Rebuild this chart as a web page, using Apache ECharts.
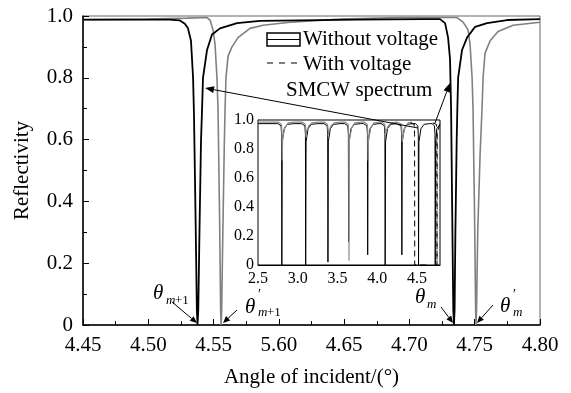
<!DOCTYPE html>
<html>
<head>
<meta charset="utf-8">
<title>Reflectivity</title>
<script src="https://cdn.jsdelivr.net/npm/echarts@6/dist/echarts.min.js"></script>
<style>
  html, body { margin: 0; padding: 0; background: #fff; }
  #chart { width: 571px; height: 393px; }
</style>
</head>
<body>
<div id="chart"></div>
<script>
// tick labels as printed in the figure (the "5.60" is in the original)
var xTickLabels = ['4.45', '4.50', '4.55', '5.60', '4.65', '4.70', '4.75', '4.80'];

// main plot, reflectivity vs angle
var withoutVoltage = [
  [4.45, 0.988], [4.50, 0.988], [4.516, 0.988], [4.524, 0.986], [4.528, 0.975], [4.5304, 0.96],
  [4.5327, 0.92], [4.5343, 0.80], [4.535, 0.68], [4.5362, 0.35], [4.5372, 0.05], [4.5377, 0.0],
  [4.5383, 0.05], [4.5392, 0.3], [4.5404, 0.6], [4.5412, 0.7], [4.5419, 0.8], [4.545, 0.89],
  [4.5488, 0.94], [4.5549, 0.96], [4.568, 0.977], [4.5856, 0.984], [4.616, 0.986], [4.66, 0.988],
  [4.71, 0.99], [4.7234, 0.99], [4.7273, 0.977], [4.7296, 0.93], [4.7311, 0.86], [4.7319, 0.70],
  [4.7328, 0.35], [4.7336, 0.05], [4.7341, 0.0], [4.7346, 0.05], [4.7352, 0.3], [4.7362, 0.6],
  [4.7367, 0.7], [4.7373, 0.8], [4.7403, 0.89], [4.7441, 0.93], [4.7503, 0.965], [4.7595, 0.977],
  [4.7748, 0.987], [4.80, 0.99]
];
var withVoltage = [
  [4.45, 0.988], [4.50, 0.99], [4.53, 0.993], [4.545, 0.995], [4.5473, 0.987], [4.5496, 0.955],
  [4.5511, 0.91], [4.5526, 0.80], [4.5534, 0.70], [4.5546, 0.35], [4.5554, 0.05], [4.5558, 0.0],
  [4.5562, 0.05], [4.5571, 0.3], [4.5582, 0.58], [4.5588, 0.70], [4.5595, 0.80], [4.5611, 0.87],
  [4.5641, 0.90], [4.5687, 0.93], [4.5779, 0.96], [4.5879, 0.97], [4.6086, 0.98], [4.6469, 0.99],
  [4.6928, 0.995], [4.7365, 0.995], [4.7411, 0.98], [4.7449, 0.955], [4.7464, 0.91], [4.748, 0.80],
  [4.7487, 0.70], [4.7499, 0.35], [4.7507, 0.05], [4.751, 0.0], [4.7514, 0.05], [4.7523, 0.3],
  [4.7541, 0.55], [4.7556, 0.70], [4.7564, 0.80], [4.7579, 0.88], [4.7618, 0.92], [4.7679, 0.95],
  [4.7794, 0.97], [4.80, 0.98]
];

// inset: SMCW spectrum
var insetWithout = [
  [2.5, 0.975], [2.75, 0.975], [2.79, 0.96], [2.797, 0.9], [2.80, 0], [2.805, 0.85], [2.83, 0.94], [2.87, 0.97], [2.95, 0.975],
  [3.05, 0.975], [3.09, 0.96], [3.097, 0.9], [3.10, 0], [3.105, 0.85], [3.13, 0.94], [3.17, 0.97], [3.25, 0.975],
  [3.33, 0.975], [3.37, 0.96], [3.377, 0.9], [3.38, 0.02], [3.385, 0.85], [3.41, 0.94], [3.45, 0.97], [3.53, 0.975],
  [3.59, 0.975], [3.63, 0.96], [3.637, 0.9], [3.64, 0.16], [3.645, 0.85], [3.67, 0.94], [3.71, 0.97], [3.79, 0.975],
  [3.83, 0.975], [3.87, 0.96], [3.877, 0.9], [3.88, 0.07], [3.885, 0.85], [3.91, 0.94], [3.95, 0.97], [4.02, 0.975],
  [4.05, 0.975], [4.09, 0.96], [4.097, 0.9], [4.10, 0], [4.105, 0.85], [4.13, 0.94], [4.17, 0.97], [4.24, 0.975],
  [4.26, 0.975], [4.30, 0.96], [4.307, 0.9], [4.31, 0.07], [4.315, 0.85], [4.34, 0.94], [4.38, 0.97], [4.44, 0.975],
  [4.48, 0.975], [4.51, 0.96], [4.517, 0.9], [4.52, 0], [4.525, 0.85], [4.55, 0.94], [4.59, 0.97], [4.66, 0.975],
  [4.69, 0.975], [4.72, 0.96], [4.727, 0.9], [4.73, 0], [4.735, 0.85], [4.75, 0.94], [4.79, 0.97]
];
var insetWith = [
  [2.5, 0.985], [2.76, 0.985], [2.795, 0.97], [2.802, 0.9], [2.805, 0.72], [2.81, 0.88], [2.84, 0.95], [2.88, 0.98], [2.96, 0.985],
  [3.06, 0.985], [3.095, 0.97], [3.102, 0.93], [3.105, 0.88], [3.11, 0.92], [3.14, 0.96], [3.18, 0.98], [3.26, 0.985],
  [3.34, 0.985], [3.375, 0.97], [3.382, 0.93], [3.385, 0.9], [3.39, 0.92], [3.42, 0.96], [3.46, 0.98], [3.54, 0.985],
  [3.60, 0.985], [3.635, 0.97], [3.642, 0.9], [3.645, 0.03], [3.65, 0.86], [3.68, 0.95], [3.72, 0.98], [3.80, 0.985],
  [3.84, 0.985], [3.875, 0.97], [3.882, 0.9], [3.885, 0.72], [3.89, 0.86], [3.92, 0.95], [3.96, 0.98], [4.03, 0.985],
  [4.06, 0.985], [4.095, 0.97], [4.102, 0.93], [4.105, 0.9], [4.11, 0.92], [4.14, 0.96], [4.18, 0.98], [4.25, 0.985],
  [4.27, 0.985], [4.305, 0.97], [4.312, 0.9], [4.315, 0.85], [4.32, 0.88], [4.35, 0.95], [4.39, 0.98], [4.44, 0.985]
];
var insetDashed = [
  [4.42, 0.98], [4.465, 0.97], [4.47, 0.9], [4.472, 0], [4.62, 0], [4.62, '-'],
  [4.70, 0.98], [4.745, 0.97], [4.75, 0.9], [4.752, 0], [4.755, 0.9], [4.785, 0.97]
];

var serif = '"Liberation Serif", "Times New Roman", serif';

function arrow(x1, y1, x2, y2, len, half) {
  var a = Math.atan2(y2 - y1, x2 - x1);
  var bx = x2 - len * Math.cos(a), by = y2 - len * Math.sin(a);
  var nx = -Math.sin(a) * half, ny = Math.cos(a) * half;
  return [
    { type: 'line', z: 100, shape: { x1: x1, y1: y1, x2: bx, y2: by }, style: { stroke: '#000', lineWidth: 1 } },
    { type: 'polygon', z: 100, shape: { points: [[x2, y2], [bx + nx, by + ny], [bx - nx, by - ny]] }, style: { fill: '#000' } }
  ];
}

function txt(x, y, s, size, italic, align) {
  return {
    type: 'text', z: 100, x: x, y: y,
    style: {
      text: s, fill: '#000', font: (italic ? 'italic ' : '') + size + 'px ' + serif,
      textAlign: align || 'left', textVerticalAlign: 'middle'
    }
  };
}

var graphics = [];
// legend
graphics.push({ type: 'rect', z: 100, shape: { x: 267, y: 33, width: 33, height: 13 }, style: { fill: 'none', stroke: '#000', lineWidth: 1.5 } });
graphics.push({ type: 'line', z: 100, shape: { x1: 267, y1: 39.5, x2: 300, y2: 39.5 }, style: { stroke: '#000', lineWidth: 1.2 } });
graphics.push({ type: 'line', z: 100, shape: { x1: 267, y1: 63, x2: 300, y2: 63 }, style: { stroke: '#000', lineWidth: 1.2, lineDash: [6, 6] } });
graphics.push(txt(303, 39, 'Without voltage', 21));
graphics.push(txt(303, 64, 'With voltage', 21));
graphics.push(txt(286, 90, 'SMCW spectrum', 21));
// arrows from the label to the two dips
graphics = graphics.concat(arrow(418, 128, 205, 88, 9, 3.5));
graphics = graphics.concat(arrow(435, 123, 450, 83, 9, 3.5));
// theta labels
graphics.push(txt(153, 293, 'θ', 21, true));
graphics.push(txt(166, 301, 'm', 13, true));
graphics.push(txt(175, 301, '+1', 13, false));
graphics = graphics.concat(arrow(172, 302, 197, 323, 7, 3));
graphics.push(txt(245, 307, 'θ', 21, true));
graphics.push(txt(258, 295, '′', 14, false));
graphics.push(txt(258, 313, 'm', 13, true));
graphics.push(txt(267, 313, '+1', 13, false));
graphics = graphics.concat(arrow(237, 310, 223, 323, 7, 3));
graphics.push(txt(415, 297, 'θ', 21, true));
graphics.push(txt(427, 305, 'm', 13, true));
graphics = graphics.concat(arrow(441, 307, 453, 323, 7, 3));
graphics.push(txt(500, 306, 'θ', 21, true));
graphics.push(txt(513, 295, '′', 14, false));
graphics.push(txt(513, 313, 'm', 13, true));
graphics = graphics.concat(arrow(493, 305, 477, 323, 7, 3));

var chart = echarts.init(document.getElementById('chart'));
chart.setOption({
  animation: false,
  backgroundColor: '#fff',
  textStyle: { fontFamily: serif },
  grid: [
    { left: 83, right: 31, top: 16, bottom: 67, show: true, borderColor: '#666', borderWidth: 1 },
    { left: 258, right: 131, top: 120, bottom: 128, show: true, backgroundColor: '#fff', borderColor: '#000', borderWidth: 1, z: 5 }
  ],
  xAxis: [
    {
      gridIndex: 0, type: 'value', min: 4.45, max: 4.80, interval: 0.05,
      name: 'Angle of incident/(°)', nameLocation: 'middle', nameGap: 42,
      nameTextStyle: { fontSize: 21, color: '#000', fontFamily: serif },
      axisLine: { lineStyle: { color: '#000', width: 1.5 } },
      axisTick: { inside: true, length: 6, lineStyle: { color: '#000' } },
      minorTick: { show: true, splitNumber: 2, length: 4, lineStyle: { color: '#000' } },
      splitLine: { show: false },
      axisLabel: {
        fontSize: 21, color: '#000', fontFamily: serif, margin: 10,
        formatter: function (v) { var i = Math.round((v - 4.45) / 0.05); return xTickLabels[i] || ''; }
      }
    },
    {
      gridIndex: 1, type: 'value', min: 2.5, max: 4.79, interval: 0.5,
      axisLine: { lineStyle: { color: '#000', width: 1 } },
      axisTick: { inside: true, length: 3, lineStyle: { color: '#000' } },
      splitLine: { show: false },
      axisLabel: {
        fontSize: 16, color: '#000', fontFamily: serif, margin: 6, showMaxLabel: false,
        formatter: function (v) { return v.toFixed(1); }
      }
    }
  ],
  yAxis: [
    {
      gridIndex: 0, type: 'value', min: 0, max: 1, interval: 0.2,
      name: 'Reflectivity', nameLocation: 'middle', nameGap: 50,
      nameTextStyle: { fontSize: 21, color: '#000', fontFamily: serif },
      axisLine: { show: true, lineStyle: { color: '#000', width: 1.5 } },
      axisTick: { show: true, inside: true, length: 6, lineStyle: { color: '#000' } },
      minorTick: { show: true, splitNumber: 2, length: 4, lineStyle: { color: '#000' } },
      splitLine: { show: false },
      axisLabel: {
        fontSize: 21, color: '#000', fontFamily: serif, margin: 10,
        formatter: function (v) { return v === 0 ? '0' : v.toFixed(1); }
      }
    },
    {
      gridIndex: 1, type: 'value', min: 0, max: 1, interval: 0.2,
      axisLine: { show: true, lineStyle: { color: '#000', width: 1 } },
      axisTick: { show: true, inside: true, length: 3, lineStyle: { color: '#000' } },
      splitLine: { show: false },
      axisLabel: {
        fontSize: 16, color: '#000', fontFamily: serif, margin: 4,
        formatter: function (v) { return v === 0 ? '0' : v.toFixed(1); }
      }
    }
  ],
  series: [
    { name: 'With voltage', type: 'line', xAxisIndex: 0, yAxisIndex: 0, data: withVoltage, showSymbol: false,
      lineStyle: { color: '#808080', width: 1.6 } },
    { name: 'Without voltage', type: 'line', xAxisIndex: 0, yAxisIndex: 0, data: withoutVoltage, showSymbol: false,
      lineStyle: { color: '#000', width: 1.8 } },
    { name: 'Inset without', type: 'line', xAxisIndex: 1, yAxisIndex: 1, data: insetWithout, showSymbol: false, z: 6,
      lineStyle: { color: '#000', width: 1 } },
    { name: 'Inset with', type: 'line', xAxisIndex: 1, yAxisIndex: 1, data: insetWith, showSymbol: false, z: 7,
      lineStyle: { color: '#8a8a8a', width: 1.2 } },
    { name: 'Inset dashed', type: 'line', xAxisIndex: 1, yAxisIndex: 1, data: insetDashed, showSymbol: false, z: 7,
      connectNulls: false, lineStyle: { color: '#000', width: 1, type: [6, 4] } }
  ],
  graphic: graphics
});
</script>
</body>
</html>
